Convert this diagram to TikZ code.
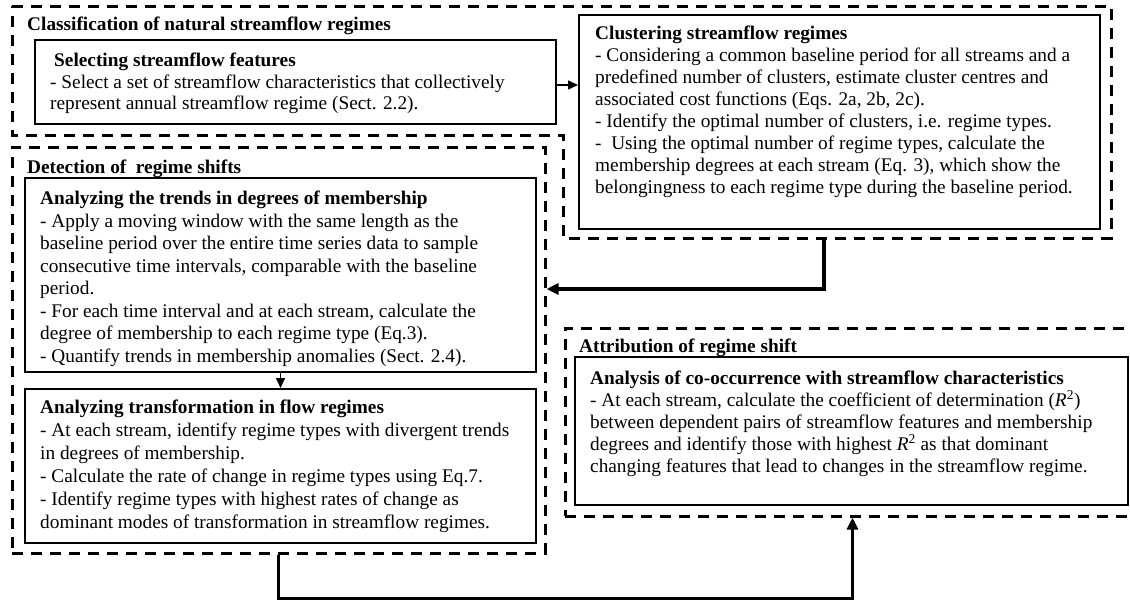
\documentclass[tikz,border=0pt]{standalone}
\usepackage{fontspec}
\setmainfont{Liberation Serif}
\usetikzlibrary{arrows.meta}
\begin{document}
\begin{tikzpicture}[x=1pt,y=-1pt,
  grp/.style={draw, line width=3pt, dash pattern=on 11pt off 8pt},
  stage/.style={draw, line width=2pt, rectangle, inner sep=0pt},
  body/.style={anchor=north west, inner sep=0pt, align=left},
  head/.style={anchor=north west, inner sep=0pt, font=\fontsize{19.3}{22}\selectfont\bfseries},
  thinarrow/.style={line width=1.5pt, -{Triangle[length=10pt,width=9pt]}},
  thickarrow/.style={line width=3.3pt, -{Triangle[length=12pt,width=11pt]}},
]
\useasboundingbox (0,0) rectangle (1130,600);
\fill[white] (0,0) rectangle (1130,600);
\clip (0,0) rectangle (1130,600);

% ---- group outlines ----
\draw[grp] (12,6) -- (1111,6) -- (1111,238) -- (563,238) -- (563,135) -- (12,135) -- cycle;
\node[grp, rectangle, inner sep=0pt, minimum width=533pt, minimum height=406pt] (det) at (278.5,350) {};
\node[grp, rectangle, inner sep=0pt, minimum width=575pt, minimum height=188pt] (attr) at (852.5,422) {};
\coordinate (cluout) at (824,238);
\coordinate (bend) at (824,289);

% ---- stage boxes ----
\node[stage, minimum width=521pt, minimum height=84pt]  (sel)   at (295.5,82) {};
\node[stage, minimum width=521pt, minimum height=214pt] (clu)   at (839.5,122) {};
\node[stage, minimum width=511pt, minimum height=194pt] (trend) at (280.5,275) {};
\node[stage, minimum width=511pt, minimum height=154pt] (trans) at (280.5,466) {};
\node[stage, minimum width=553pt, minimum height=148pt] (cooc)  at (851.5,431) {};

% ---- group titles ----
\node[head] (classT) at (27,17)  {Classification of natural streamflow regimes};
\node[head] (detT)   at (27,160) {Detection of\ \ regime shifts};
\node[head] (attrT)  at (579,339) {Attribution of regime shift};

% ---- stage texts ----
\node[body, font=\fontsize{19.3}{21.5}\selectfont] (selT) at (50,53) {%
\hspace*{4pt}\textbf{Selecting streamflow features}\\
- Select a set of streamflow characteristics that collectively\\
represent annual streamflow regime (Sect. 2.2).};

\node[body, font=\fontsize{19.3}{21.9}\selectfont] (cluT) at (595,26) {%
\textbf{Clustering streamflow regimes}\\
- Considering a common baseline period for all streams and a\\
predefined number of clusters, estimate cluster centres and\\
associated cost functions (Eqs. 2a, 2b, 2c).\\
- Identify the optimal number of clusters, i.e. regime types.\\
-\ \ Using the optimal number of regime types, calculate the\\
membership degrees at each stream (Eq. 3), which show the\\
belongingness to each regime type during the baseline period.};

\node[body, font=\fontsize{19.3}{22.5}\selectfont] (trendT) at (40,191) {%
\textbf{Analyzing the trends in degrees of membership}\\
- Apply a moving window with the same length as the\\
baseline period over the entire time series data to sample\\
consecutive time intervals, comparable with the baseline\\
period.\\
- For each time interval and at each stream, calculate the\\
degree of membership to each regime type (Eq.3).\\
- Quantify trends in membership anomalies (Sect. 2.4).};

\node[body, font=\fontsize{19.3}{23}\selectfont] (transT) at (40,400) {%
\textbf{Analyzing transformation in flow regimes}\\
- At each stream, identify regime types with divergent trends\\
in degrees of membership.\\
- Calculate the rate of change in regime types using Eq.7.\\
- Identify regime types with highest rates of change as\\
dominant modes of transformation in streamflow regimes.};

\node[body, font=\fontsize{19.3}{22}\selectfont] (coocT) at (590,371) {%
\textbf{Analysis of co-occurrence with streamflow characteristics}\\
- At each stream, calculate the coefficient of determination (\textit{R}\textsuperscript{2})\\
between dependent pairs of streamflow features and membership\\
degrees and identify those with highest \textit{R}\textsuperscript{2} as that dominant\\
changing features that lead to changes in the streamflow regime.};

% ---- connectors ----
\draw[thinarrow] ([yshift=-3pt]sel.east) -- ([yshift=-3pt]sel.east -| clu.west);
\draw[thinarrow] (trend.south) -- (trans.north);
\draw[thickarrow] (cluout) -- (bend) -- (bend -| det.east);
\draw[thickarrow] (det.south) -- ++(0,44) -| (attr.south);
\end{tikzpicture}
\end{document}
